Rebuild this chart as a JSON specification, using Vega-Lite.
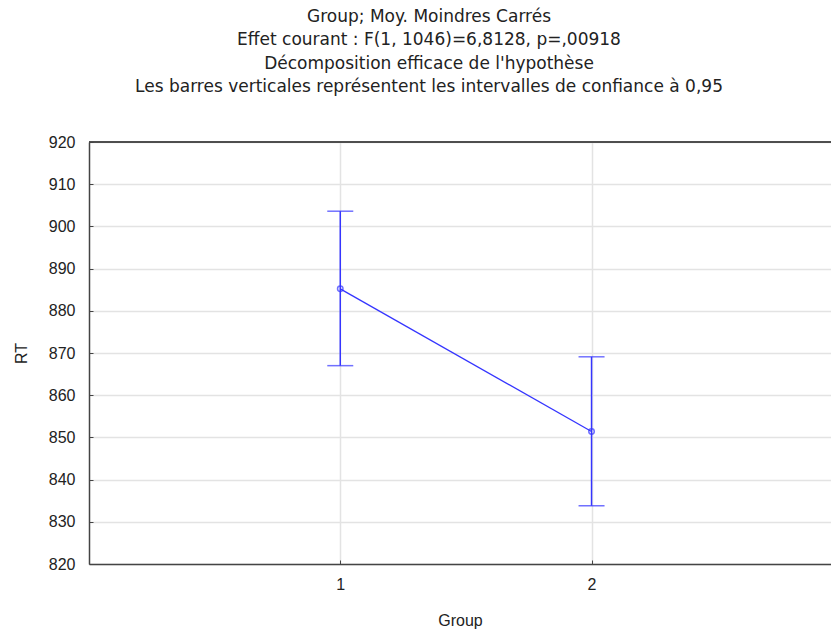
{
  "$schema": "https://vega.github.io/schema/vega-lite/v6.json",
  "autosize": "none",
  "width": 742,
  "height": 422,
  "padding": {"left": 89, "top": 142, "right": 0, "bottom": 67},
  "background": "white",
  "title": {
    "text": ["Group; Moy. Moindres Carrés", "Effet courant : F(1, 1046)=6,8128, p=,00918", "Décomposition efficace de l'hypothèse", "Les barres verticales représentent les intervalles de confiance à 0,95"],
    "font": "DejaVu Sans",
    "fontSize": 17,
    "fontWeight": "normal",
    "color": "#222",
    "lineHeight": 23.3,
    "anchor": "middle",
    "dx": -31,
    "offset": 38
  },
  "config": {
    "view": {"stroke": null},
    "axis": {
      "domainColor": "#444",
      "domainWidth": 1.5,
      "gridColor": "#e3e3e3",
      "gridWidth": 1.5,
      "tickColor": "#444",
      "tickSize": -4
    }
  },
  "data": {
    "values": [
      {"Group": 1, "RT": 885.2, "lower": 867.0, "upper": 903.6},
      {"Group": 2, "RT": 851.4, "lower": 833.8, "upper": 869.1}
    ]
  },
  "layer": [
    {
      "mark": {"type": "rule", "color": "#3535ff", "strokeWidth": 1.5},
      "encoding": {
        "x": {
          "field": "Group", "type": "quantitative",
          "scale": {"domain": [0, 2.953], "nice": false, "zero": false},
          "axis": {"values": [1, 2], "title": "Group", "titlePadding": 20, "labelPadding": 16, "format": "d",
            "labelFont": "Liberation Sans", "labelFontSize": 16, "labelColor": "#222",
            "titleFont": "Liberation Sans", "titleFontSize": 16, "titleFontWeight": "normal", "titleColor": "#222"}
        },
        "y": {
          "field": "lower", "type": "quantitative",
          "scale": {"domain": [820, 920], "nice": false, "zero": false},
          "axis": {"values": [820, 830, 840, 850, 860, 870, 880, 890, 900, 910, 920], "title": "RT", "titlePadding": 19, "labelPadding": 18,
            "labelFont": "Liberation Sans", "labelFontSize": 16, "labelColor": "#222",
            "titleFont": "Liberation Sans", "titleFontSize": 16, "titleFontWeight": "normal", "titleColor": "#222"}
        },
        "y2": {"field": "upper"}
      }
    },
    {
      "mark": {"type": "tick", "orient": "horizontal", "color": "#3535ff", "size": 26, "thickness": 1.5},
      "encoding": {
        "x": {"field": "Group", "type": "quantitative"},
        "y": {"field": "upper", "type": "quantitative"}
      }
    },
    {
      "mark": {"type": "tick", "orient": "horizontal", "color": "#3535ff", "size": 26, "thickness": 1.5},
      "encoding": {
        "x": {"field": "Group", "type": "quantitative"},
        "y": {"field": "lower", "type": "quantitative"}
      }
    },
    {
      "mark": {"type": "line", "color": "#3535ff", "strokeWidth": 1.3},
      "encoding": {
        "x": {"field": "Group", "type": "quantitative"},
        "y": {"field": "RT", "type": "quantitative"}
      }
    },
    {
      "mark": {"type": "point", "shape": "circle", "filled": false, "color": "#3535ff", "size": 30, "strokeWidth": 1.5},
      "encoding": {
        "x": {"field": "Group", "type": "quantitative"},
        "y": {"field": "RT", "type": "quantitative"}
      }
    },
    {
      "mark": {"type": "rule", "color": "#444", "strokeWidth": 1.5},
      "encoding": {
        "y": {"datum": 920, "type": "quantitative"}
      }
    }
  ]
}
